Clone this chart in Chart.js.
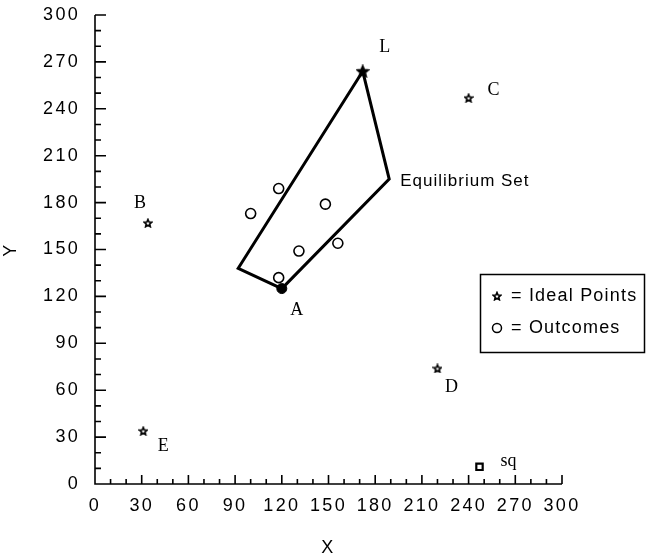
<!DOCTYPE html>
<html>
<head>
<meta charset="utf-8">
<script src="https://cdn.jsdelivr.net/npm/chart.js@4"></script>
<style>
  html, body { margin: 0; padding: 0; background: #fff; }
</style>
</head>
<body>
<canvas id="chart" width="647" height="559"></canvas>
<script>
// ideal points of the players
const idealNames = ['L', 'C', 'B', 'D', 'E'];
const idealX = [172, 240, 34, 220, 31];
const idealY = [264, 247, 167, 74, 34];

// experimental outcomes
const outcomeX = [100, 118, 148, 131, 156, 118];
const outcomeY = [173, 189, 179, 149, 154, 132];

// equilibrium set boundary (closed)
const equilX = [172, 189, 120, 92, 172];
const equilY = [264, 195, 125, 138, 264];

// point A and status quo
const pointA = { x: 120, y: 125 };
const statusQuo = { x: 247, y: 11 };

const xTicks = [0, 30, 60, 90, 120, 150, 180, 210, 240, 270, 300];
const yTicks = [0, 30, 60, 90, 120, 150, 180, 210, 240, 270, 300];

// label nudges in pixels, kept apart from the data
const labelOffset = {
  L: [22, -24], C: [25, -8], B: [-8, -20], D: [14, 19], E: [20, 15],
  A: [15, 22], sq: [29, -6]
};

const sansFont = '"Liberation Sans", Arial, sans-serif';
const serifFont = '"Liberation Serif", "DejaVu Serif", serif';

function makeStar(size, filled) {
  const c = document.createElement('canvas');
  c.width = size;
  c.height = size;
  const g = c.getContext('2d');
  const cx = size / 2, cy = size / 2 + 0.5;
  const ro = size / 2 - 1, ri = ro * 0.45;
  g.beginPath();
  for (let i = 0; i < 10; i++) {
    const r = i % 2 ? ri : ro;
    const a = -Math.PI / 2 + i * Math.PI / 5;
    g.lineTo(cx + r * Math.cos(a), cy + r * Math.sin(a));
  }
  g.closePath();
  g.lineWidth = 1.6;
  g.strokeStyle = '#000';
  g.stroke();
  if (filled) {
    g.fillStyle = '#000';
    g.fill();
  }
  return c;
}

const smallStar = makeStar(10, false);
const bigStar = makeStar(14, true);

const toPoints = (xs, ys) => xs.map((x, i) => ({ x: x, y: ys[i] }));

// wider letter spacing for the axis numbers, like the printed figure
const spacing = {
  id: 'spacing',
  beforeDraw(chart) { chart.ctx.letterSpacing = '2.3px'; },
  afterDraw(chart) { chart.ctx.letterSpacing = '0px'; }
};

// axes with inward ticks, minor every 10
const axisTicks = {
  id: 'axisTicks',
  afterDatasetsDraw(chart) {
    const { ctx, scales: { x, y } } = chart;
    const x0 = x.getPixelForValue(0);
    const y0 = y.getPixelForValue(0);
    ctx.save();
    ctx.strokeStyle = '#000';
    ctx.lineWidth = 1.6;
    ctx.beginPath();
    ctx.moveTo(x0, y.getPixelForValue(300));
    ctx.lineTo(x0, y0);
    ctx.lineTo(x.getPixelForValue(300), y0);
    for (let v = 0; v <= 300; v += 10) {
      const major = v % 30 === 0;
      const py = y.getPixelForValue(v);
      ctx.moveTo(x0, py);
      ctx.lineTo(x0 + (major ? 11 : 6), py);
      const px = x.getPixelForValue(v);
      ctx.moveTo(px, y0);
      ctx.lineTo(px, y0 - (major ? 9 : 5));
    }
    ctx.stroke();
    ctx.restore();
  }
};

// point letters, "Equilibrium Set" and the boxed key
const annotations = {
  id: 'annotations',
  afterDatasetsDraw(chart) {
    const { ctx, scales: { x, y }, chartArea } = chart;
    ctx.save();
    ctx.letterSpacing = '0px';
    ctx.fillStyle = '#000';
    ctx.textAlign = 'center';
    ctx.textBaseline = 'middle';
    ctx.font = '18px ' + serifFont;
    const put = (name, vx, vy) => {
      const o = labelOffset[name];
      ctx.fillText(name, x.getPixelForValue(vx) + o[0], y.getPixelForValue(vy) + o[1]);
    };
    idealNames.forEach((n, i) => put(n, idealX[i], idealY[i]));
    put('A', pointA.x, pointA.y);
    put('sq', statusQuo.x, statusQuo.y);

    ctx.font = '17px ' + sansFont;
    ctx.letterSpacing = '1px';
    ctx.textAlign = 'left';
    ctx.fillText('Equilibrium Set', x.getPixelForValue(equilX[1]) + 11, y.getPixelForValue(equilY[1]) + 2);

    // key box
    const bx = chartArea.right - 82, by = 274, bw = 164, bh = 78;
    ctx.lineWidth = 1.5;
    ctx.strokeStyle = '#000';
    ctx.strokeRect(bx + 0.5, by + 0.5, bw, bh);
    ctx.drawImage(smallStar, bx + 12, by + 17);
    ctx.beginPath();
    ctx.arc(bx + 17, by + 54, 4.5, 0, Math.PI * 2);
    ctx.stroke();
    ctx.font = '18px ' + sansFont;
    ctx.letterSpacing = '1.2px';
    ctx.fillText('= Ideal Points', bx + 31, by + 22);
    ctx.fillText('= Outcomes', bx + 31, by + 54);
    ctx.restore();
  }
};

new Chart(document.getElementById('chart'), {
  type: 'scatter',
  data: {
    datasets: [
      {
        label: 'Equilibrium Set',
        data: toPoints(equilX, equilY),
        showLine: true,
        borderColor: '#000',
        borderWidth: 3,
        pointRadius: 0,
        fill: false,
        tension: 0
      },
      {
        label: 'Outcomes',
        data: toPoints(outcomeX, outcomeY),
        pointStyle: 'circle',
        pointRadius: 5,
        pointBorderWidth: 1.6,
        pointBorderColor: '#000',
        pointBackgroundColor: '#fff'
      },
      {
        label: 'A',
        data: [pointA],
        pointStyle: 'circle',
        pointRadius: 5,
        pointBorderWidth: 1,
        pointBorderColor: '#000',
        pointBackgroundColor: '#000'
      },
      {
        label: 'Ideal Points',
        data: toPoints(idealX, idealY),
        pointStyle: idealNames.map(n => n === 'L' ? bigStar : smallStar)
      },
      {
        label: 'sq',
        data: [statusQuo],
        pointStyle: 'rect',
        pointRadius: 4.5,
        pointBorderWidth: 2.2,
        pointBorderColor: '#000',
        pointBackgroundColor: '#fff'
      }
    ]
  },
  options: {
    responsive: false,
    animation: false,
    layout: { padding: { top: 15, right: 85, left: 0, bottom: 0 } },
    plugins: {
      legend: { display: false },
      tooltip: { enabled: false }
    },
    scales: {
      x: {
        type: 'linear',
        min: 0,
        max: 300,
        afterBuildTicks: s => { s.ticks = xTicks.map(v => ({ value: v })); },
        afterFit: s => { s.height = 75; s.paddingLeft = 0; s.paddingRight = 0; },
        border: { display: false },
        grid: { display: false, drawTicks: false },
        ticks: { color: '#000', padding: 11, font: { family: sansFont, size: 18 } },
        title: {
          display: true,
          text: 'X',
          color: '#000',
          padding: { top: 0, bottom: 0 },
          font: { family: sansFont, size: 18 }
        }
      },
      y: {
        type: 'linear',
        min: 0,
        max: 300,
        afterBuildTicks: s => { s.ticks = yTicks.map(v => ({ value: v })); },
        afterFit: s => { s.width = 95; s.paddingTop = 0; s.paddingBottom = 0; },
        border: { display: false },
        grid: { display: false, drawTicks: false },
        ticks: { color: '#000', padding: 15, font: { family: sansFont, size: 18 } },
        title: {
          display: true,
          text: 'Y',
          color: '#000',
          padding: { top: 0, bottom: 0 },
          font: { family: sansFont, size: 18 }
        }
      }
    }
  },
  plugins: [spacing, axisTicks, annotations]
});
</script>
</body>
</html>
